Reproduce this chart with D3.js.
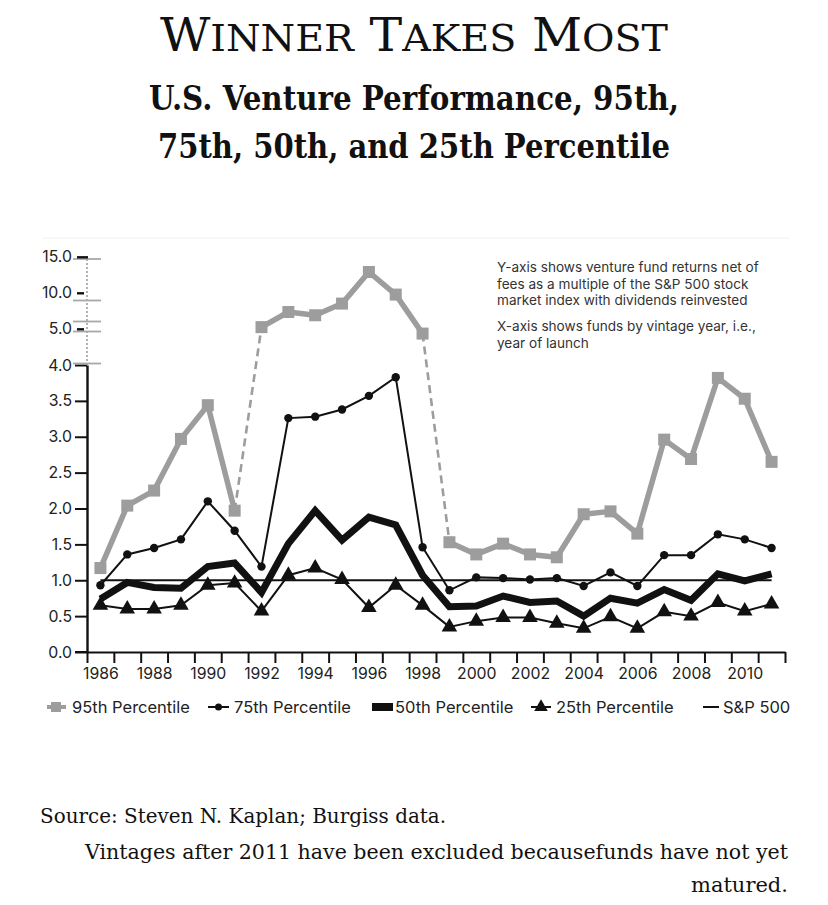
<!DOCTYPE html>
<html>
<head>
<meta charset="utf-8">
<script src="https://cdn.jsdelivr.net/npm/d3@7"></script>
<style>
  html, body { margin: 0; padding: 0; background: #fff; }
  svg { display: block; }
</style>
</head>
<body>
<script>
// ---------- DATA ----------
const years = [1986,1987,1988,1989,1990,1991,1992,1993,1994,1995,1996,1997,1998,1999,2000,2001,2002,2003,2004,2005,2006,2007,2008,2009,2010,2011];
const p95 = [1.17,2.04,2.25,2.97,3.44,1.97,5.3,7.4,6.95,8.57,12.96,9.82,4.88,1.53,1.36,1.51,1.36,1.32,1.92,1.96,1.65,2.96,2.69,3.82,3.53,2.65];
const p75 = [0.93,1.36,1.45,1.57,2.10,1.69,1.19,3.26,3.28,3.38,3.57,3.83,1.46,0.86,1.04,1.03,1.01,1.03,0.92,1.11,0.92,1.35,1.35,1.64,1.57,1.45];
const p50 = [0.74,0.97,0.90,0.89,1.19,1.24,0.83,1.51,1.97,1.56,1.88,1.77,1.07,0.63,0.64,0.78,0.69,0.71,0.50,0.75,0.68,0.87,0.72,1.09,0.99,1.09];
const p25 = [0.65,0.60,0.60,0.65,0.93,0.96,0.57,1.07,1.17,1.01,0.62,0.93,0.65,0.35,0.43,0.48,0.48,0.40,0.33,0.49,0.33,0.56,0.50,0.69,0.57,0.67];
const sp500 = [1,1,1,1,1,1,1,1,1,1,1,1,1,1,1,1,1,1,1,1,1,1,1,1,1,1];
const yTicksLow = [0.0,0.5,1.0,1.5,2.0,2.5,3.0,3.5,4.0];
const yTicksHigh = [5.0,10.0,15.0];
const xLabelYears = [1986,1988,1990,1992,1994,1996,1998,2000,2002,2004,2006,2008,2010];
const legendLabels = ["95th Percentile","75th Percentile","50th Percentile","25th Percentile","S&P 500"];
const title = "Winner Takes Most";
const subtitle = ["U.S. Venture Performance, 95th,", "75th, 50th, and 25th Percentile"];
const noteLines = ["Y-axis shows venture fund returns net of","fees as a multiple of the S&P 500 stock","market index with dividends reinvested"];
const noteLines2 = ["X-axis shows funds by vintage year, i.e.,","year of launch"];
const sourceText = "Source: Steven N. Kaplan; Burgiss data.";
const footLines = ["Vintages after 2011 have been excluded becausefunds have not yet","matured."];

// ---------- SETUP ----------
const W = 828, H = 905;
const svg = d3.select("body").append("svg").attr("width", W).attr("height", H);
const sans = "Inter, Lato, 'Open Sans', sans-serif";
const serif = "'DejaVu Serif', 'Liberation Serif', serif";

const tTitle = svg.append("text").attr("x", 414).attr("y", 51).attr("text-anchor", "middle")
  .attr("font-family", serif).attr("fill", "#111");
title.split(" ").forEach((w, i) => {
  tTitle.append("tspan").attr("font-size", 47).text((i ? " " : "") + w[0].toUpperCase());
  tTitle.append("tspan").attr("font-size", 38).text(w.slice(1).toUpperCase());
});
tTitle.attr("textLength", 508).attr("lengthAdjust", "spacingAndGlyphs");

subtitle.forEach((s, i) => {
  svg.append("text").attr("x", 414).attr("y", 110 + i * 48).attr("text-anchor", "middle")
    .attr("font-family", serif).attr("font-weight", "bold").attr("font-size", 33)
    .attr("fill", "#111").attr("textLength", i ? 512 : 530).attr("lengthAdjust", "spacingAndGlyphs").text(s);
});

// ---------- SCALES ----------
const y = d3.scaleLinear().domain([0, 4, 5, 15]).range([652, 365, 329.3, 257.3]);
const xLin = d3.scaleLinear().domain([1985.5, 2011.5]).range([87, 785]);
const xc = yr => xLin(yr);

svg.append("line").attr("x1", 42).attr("x2", 790).attr("y1", 238).attr("y2", 238).attr("stroke", "#f1f1f1");

// ---------- AXES ----------
const tickFs = 15.8;
const edges = years.map(v => v - 0.5).concat([2011.5]);
const gx = svg.append("g").attr("transform", "translate(0,652)")
  .call(d3.axisBottom(xLin).tickValues(edges).tickSize(11).tickSizeOuter(0).tickFormat(""));
gx.select(".domain").attr("stroke", "#111").attr("stroke-width", 2.2);
gx.selectAll(".tick line").attr("stroke", "#111").attr("stroke-width", 2);
const gxl = svg.append("g").attr("transform", "translate(0,652)")
  .call(d3.axisBottom(xLin).tickValues(xLabelYears).tickSize(0).tickPadding(16).tickFormat(d3.format("d")));
gxl.select(".domain").remove();
gxl.selectAll("text").attr("font-family", sans).attr("font-size", tickFs).attr("fill", "#222");

const yLowScale = d3.scaleLinear().domain([0, 4]).range([652, 365]);
const gy = svg.append("g").attr("transform", "translate(87,0)")
  .call(d3.axisLeft(yLowScale).tickValues(yTicksLow).tickSize(12).tickSizeOuter(0).tickPadding(3).tickFormat(d3.format(".1f")));
gy.select(".domain").attr("stroke", "#111").attr("stroke-width", 2.4);
gy.selectAll(".tick line").attr("stroke", "#111").attr("stroke-width", 2);
gy.selectAll("text").attr("font-family", sans).attr("font-size", tickFs).attr("fill", "#222");
svg.append("line").attr("x1", 75).attr("x2", 87).attr("y1", 652).attr("y2", 652).attr("stroke", "#111").attr("stroke-width", 2);

svg.append("line").attr("x1", 87).attr("x2", 87).attr("y1", y(4)).attr("y2", y(15))
  .attr("stroke", "#999").attr("stroke-width", 1.5).attr("stroke-dasharray", "2,2");
[259, 300.5, 321.5, 331.5, 363.5].forEach(yy => {
  svg.append("line").attr("x1", 73).attr("x2", 101).attr("y1", yy).attr("y2", yy)
    .attr("stroke", "#a8a8a8").attr("stroke-width", 1.8);
});
const gyh = svg.append("g");
yTicksHigh.forEach(v => {
  gyh.append("line").attr("x1", 77).attr("x2", v === 15 ? 88 : 84).attr("y1", y(v)).attr("y2", y(v))
    .attr("stroke", "#111").attr("stroke-width", 2.4);
  gyh.append("text").attr("x", 72).attr("y", y(v)).attr("dy", "0.32em").attr("text-anchor", "end")
    .attr("font-family", sans).attr("font-size", tickFs).attr("fill", "#222").text(d3.format(".1f")(v));
});

// ---------- SERIES ----------
const line = d3.line().x(d => xc(d[0])).y(d => y(d[1]));
const zip = arr => years.map((yr, i) => [yr, arr[i]]);

svg.append("path").datum(zip(sp500)).attr("d", line).attr("fill", "none").attr("stroke", "#111").attr("stroke-width", 1.8);

const d95 = zip(p95);
const region = v => v > 4 ? 1 : 0;
let runs = [[d95[0]]];
const dashedSegs = [];
for (let i = 1; i < d95.length; i++) {
  if (region(d95[i][1]) === region(d95[i - 1][1])) runs[runs.length - 1].push(d95[i]);
  else { dashedSegs.push([d95[i - 1], d95[i]]); runs.push([d95[i]]); }
}
const g95 = svg.append("g");
dashedSegs.forEach(s => g95.append("path").datum(s).attr("d", line).attr("fill", "none")
  .attr("stroke", "#9d9d9d").attr("stroke-width", 2.6).attr("stroke-dasharray", "8,5"));
runs.forEach(r => g95.append("path").datum(r).attr("d", line).attr("fill", "none")
  .attr("stroke", "#9d9d9d").attr("stroke-width", 5.5).attr("stroke-linejoin", "round"));
g95.selectAll("rect").data(d95).join("rect")
  .attr("x", d => xc(d[0]) - 6).attr("y", d => y(d[1]) - 6).attr("width", 12).attr("height", 12).attr("fill", "#9d9d9d");

svg.append("path").datum(zip(p50)).attr("d", line).attr("fill", "none").attr("stroke", "#111")
  .attr("stroke-width", 7).attr("stroke-linejoin", "miter");

const g75 = svg.append("g");
g75.append("path").datum(zip(p75)).attr("d", line).attr("fill", "none").attr("stroke", "#111").attr("stroke-width", 2);
g75.selectAll("circle").data(zip(p75)).join("circle").attr("cx", d => xc(d[0])).attr("cy", d => y(d[1])).attr("r", 4.2).attr("fill", "#111");

const g25 = svg.append("g");
g25.append("path").datum(zip(p25)).attr("d", line).attr("fill", "none").attr("stroke", "#111").attr("stroke-width", 2);
const tri = d3.symbol().type(d3.symbolTriangle).size(105);
g25.selectAll(".tri").data(zip(p25)).join("path").attr("class", "tri").attr("d", tri)
  .attr("transform", d => `translate(${xc(d[0])},${y(d[1])})`).attr("fill", "#111");

// ---------- NOTE ----------
const noteFs = 13.6;
noteLines.forEach((s, i) => svg.append("text").attr("x", 497).attr("y", 272 + i * 16.5)
  .attr("font-family", sans).attr("font-size", noteFs).attr("fill", "#333").text(s));
noteLines2.forEach((s, i) => svg.append("text").attr("x", 497).attr("y", 331 + i * 16.5)
  .attr("font-family", sans).attr("font-size", noteFs).attr("fill", "#333").text(s));

// ---------- LEGEND ----------
const ly = 707;
const lg = svg.append("g");
lg.append("line").attr("x1", 47).attr("x2", 66).attr("y1", ly).attr("y2", ly).attr("stroke", "#9d9d9d").attr("stroke-width", 4);
lg.append("rect").attr("x", 51).attr("y", ly - 5).attr("width", 10).attr("height", 10).attr("fill", "#9d9d9d");
lg.append("line").attr("x1", 208).attr("x2", 229).attr("y1", ly).attr("y2", ly).attr("stroke", "#111").attr("stroke-width", 2);
lg.append("circle").attr("cx", 218.5).attr("cy", ly).attr("r", 3.5).attr("fill", "#111");
lg.append("rect").attr("x", 372).attr("y", ly - 4).attr("width", 21).attr("height", 8).attr("fill", "#111");
lg.append("line").attr("x1", 531).attr("x2", 551).attr("y1", ly).attr("y2", ly).attr("stroke", "#111").attr("stroke-width", 2);
lg.append("path").attr("d", d3.symbol().type(d3.symbolTriangle).size(80)).attr("transform", `translate(541,${ly})`).attr("fill", "#111");
lg.append("line").attr("x1", 703).attr("x2", 719).attr("y1", ly).attr("y2", ly).attr("stroke", "#111").attr("stroke-width", 2);
const lx = [72, 234, 395, 556, 723];
legendLabels.forEach((s, i) => lg.append("text").attr("x", lx[i]).attr("y", ly).attr("dy", "0.35em")
  .attr("font-family", sans).attr("font-size", 16.5).attr("fill", "#222").text(s));

// ---------- FOOTER ----------
svg.append("text").attr("x", 40).attr("y", 823).attr("font-family", serif).attr("font-size", 20)
  .attr("fill", "#111").attr("textLength", 406).attr("lengthAdjust", "spacingAndGlyphs").text(sourceText);
svg.append("text").attr("x", 788).attr("y", 859).attr("text-anchor", "end").attr("font-family", serif).attr("font-size", 20)
  .attr("fill", "#111").attr("textLength", 703).attr("lengthAdjust", "spacingAndGlyphs").text(footLines[0]);
svg.append("text").attr("x", 788).attr("y", 892).attr("text-anchor", "end").attr("font-family", serif).attr("font-size", 20)
  .attr("fill", "#111").attr("textLength", 97).attr("lengthAdjust", "spacingAndGlyphs").text(footLines[1]);
</script>
</body>
</html>
